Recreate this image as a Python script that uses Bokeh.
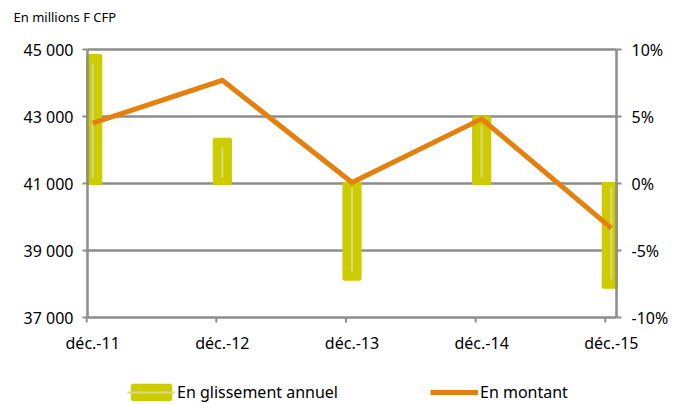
from bokeh.plotting import figure
from bokeh.models import (Range1d, LinearAxis, FixedTicker, Legend, LegendItem,
                          ColumnDataSource, Label)
from bokeh.embed import file_html
from bokeh.resources import INLINE

# ---- data ----
categories = ["déc.-11", "déc.-12", "déc.-13", "déc.-14", "déc.-15"]
montant = [42800, 44080, 41030, 42930, 39670]          # En millions F CFP (left axis)
glissement = [9.55, 3.3, -7.15, 4.93, -7.75]           # % (right axis)
left_ticks = [37000, 39000, 41000, 43000, 45000]
left_labels = ["37 000", "39 000", "41 000", "43 000", "45 000"]
right_ticks = [-10, -5, 0, 5, 10]
right_labels = ["-10%", "-5%", "0%", "5%", "10%"]

FONT = "Noto Sans"
GRID = "#8c8c8c"
BAR = "#cccc00"
BAR_HI = "#d9d98a"
ORANGE = "#e5800c"

# ---- layout constants (pixels); the frame fills the whole canvas ----
W, H = 691, 405
LEFT, RIGHT, TOP = 87, 75, 49
PLOT_W = W - LEFT - RIGHT
PLOT_H = 268
BELOW = H - TOP - PLOT_H
y_lo, y_hi = left_ticks[0], left_ticks[-1]
per_px = (y_hi - y_lo) / PLOT_H
r_lo, r_hi = right_ticks[0], right_ticks[-1]
r_per_px = (r_hi - r_lo) / PLOT_H
x_lo, x_hi = -0.04, len(categories) - 1 + 0.04
x_per_px = (x_hi - x_lo) / PLOT_W
half_w = 0.0625

xs = list(range(len(categories)))
src = ColumnDataSource(dict(
    x=xs, cat=categories, montant=montant,
    bl=[max(x - half_w, x_lo) for x in xs],
    br=[min(x + half_w, x_hi) for x in xs],
    bt=[max(v, 0) for v in glissement],
    bb=[min(v, 0) for v in glissement],
    it=[v - (0.6 if v > 0 else -0.6) for v in glissement],
    ib=[(0.45 if v > 0 else -0.3) for v in glissement],
    tx=[x - 6 * x_per_px for x in xs],
    t0=[y_lo] * len(xs), t1=[y_lo - 5 * per_px] * len(xs)))
grid_src = ColumnDataSource(dict(y=left_ticks, x0=[x_lo] * len(left_ticks),
                                 x1=[x_hi] * len(left_ticks)))

p = figure(width=W, height=H, output_backend="svg", toolbar_location=None,
           title=None,
           x_range=Range1d(x_lo - LEFT * x_per_px, x_hi + RIGHT * x_per_px),
           y_range=Range1d(y_lo - BELOW * per_px, y_hi + TOP * per_px),
           min_border=0, min_border_left=0, min_border_right=0,
           min_border_top=0, min_border_bottom=0, outline_line_color=None,
           background_fill_color="white", border_fill_color="white")
p.extra_y_ranges = {"pct": Range1d(r_lo - BELOW * r_per_px, r_hi + TOP * r_per_px)}

p.xgrid.grid_line_color = None
p.ygrid.grid_line_color = None

# horizontal grid lines (only across the value area)
p.segment(x0="x0", y0="y", x1="x1", y1="y", source=grid_src,
          line_color=GRID, line_width=2.5)

# bars (right axis)
bars = p.quad(left="bl", right="br", top="bt", bottom="bb", source=src,
              y_range_name="pct", fill_color=BAR, line_color=BAR, line_width=3)
hi = p.segment(x0="x", y0="ib", x1="x", y1="it", source=src, y_range_name="pct",
               line_color=BAR_HI, line_width=2)

# line (left axis)
ln = p.line(x="x", y="montant", source=src, line_color=ORANGE, line_width=5,
            line_join="miter")

# category tick marks
p.segment(x0="tx", y0="t0", x1="tx", y1="t1", source=src,
          line_color=GRID, line_width=2)

def style_axis(ax, size="16px"):
    ax.axis_line_color = GRID
    ax.axis_line_width = 2.5
    ax.major_tick_line_color = GRID
    ax.major_tick_line_width = 2
    ax.major_tick_out = 5
    ax.major_tick_in = 0
    ax.minor_tick_line_color = None
    ax.major_label_text_font = FONT
    ax.major_label_text_font_size = size
    ax.major_label_text_color = "black"

yl = p.yaxis[0]
yl.fixed_location = x_lo
yl.ticker = FixedTicker(ticks=left_ticks)
yl.bounds = (y_lo, y_hi)
yl.major_label_overrides = {t: l for t, l in zip(left_ticks, left_labels)}
style_axis(yl)
yl.major_label_standoff = 9

yr = LinearAxis(y_range_name="pct", fixed_location=x_hi,
                ticker=FixedTicker(ticks=right_ticks), bounds=(r_lo, r_hi),
                major_label_overrides={t: l for t, l in zip(right_ticks, right_labels)})
style_axis(yr)
yr.major_label_standoff = 10
p.add_layout(yr, "right")

xa = p.xaxis[0]
xa.fixed_location = y_lo
xa.ticker = FixedTicker(ticks=xs)
xa.major_label_overrides = {i: c for i, c in zip(xs, categories)}
style_axis(xa)
xa.axis_line_color = None
xa.major_tick_line_color = None
xa.major_label_standoff = 9

# unit label (top-left)
p.add_layout(Label(x=13, y=H - 16, x_units="screen", y_units="screen",
                   text="En millions F CFP", text_font=FONT,
                   text_font_size="13px", text_color="black",
                   text_baseline="middle", text_align="left"))

# legend
legend = Legend(items=[LegendItem(label="En glissement annuel", renderers=[bars, hi]),
                       LegendItem(label="En montant", renderers=[ln])],
                orientation="horizontal", location=(127, 2),
                glyph_width=48, glyph_height=18, label_standoff=2, spacing=92,
                padding=0, margin=0, border_line_color=None,
                background_fill_alpha=0, label_text_font=FONT,
                label_text_font_size="16px", label_text_color="black")
p.add_layout(legend, "center")

open("out.html", "w").write(file_html(p, INLINE))
